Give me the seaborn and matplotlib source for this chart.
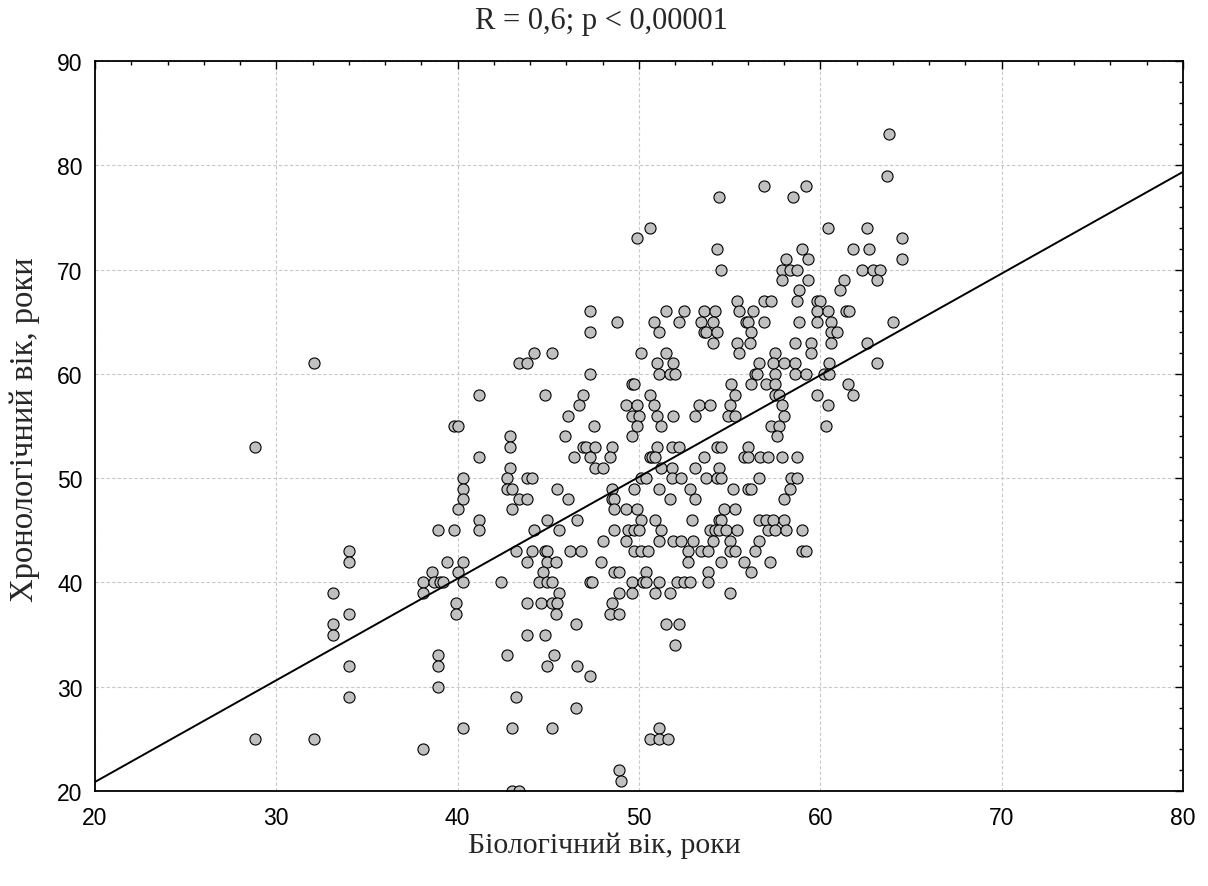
import matplotlib
matplotlib.use("Agg")
import matplotlib.pyplot as plt
import seaborn as sns
import numpy as np
from matplotlib.ticker import MultipleLocator

# ---- data: chronological age levels with corresponding biological ages ----
bio_age = [
    63.8,
    63.7,
    56.9, 59.2,
    54.4, 58.5,
    50.6, 60.4, 62.6,
    49.9, 64.5,
    54.3, 59.0, 61.8, 62.7,
    58.1, 59.3, 64.5,
    54.5, 57.9, 58.3, 58.7, 62.3, 62.9, 63.3,
    57.9, 59.3, 61.3, 63.1,
    58.8, 61.1,
    55.4, 56.9, 57.3, 58.7, 59.8, 60.0,
    47.3, 51.5, 52.5, 53.6, 54.2, 55.5, 56.3, 59.8, 60.4, 61.4, 61.6,
    48.8, 50.8, 52.2, 53.4, 54.1, 55.9, 56.0, 56.9, 58.8, 59.8, 60.6, 64.0,
    47.3, 51.1, 53.6, 53.7, 54.3, 56.2, 60.6, 60.9,
    54.1, 55.4, 56.1, 58.6, 59.5, 60.6, 62.6,
    44.2, 45.2, 50.1, 51.5, 55.5, 57.5, 59.5,
    32.1, 43.4, 43.8, 51.0, 51.9, 56.6, 57.4, 58.0, 58.6, 60.5, 63.1,
    47.3, 51.1, 51.7, 52.0, 56.4, 56.5, 57.5, 58.6, 59.2, 60.2, 60.5,
    49.6, 49.7, 55.1, 56.2, 57.0, 57.5, 61.5,
    41.2, 44.8, 46.9, 50.6, 55.3, 57.5, 57.7, 59.8, 61.8,
    46.7, 49.3, 49.9, 50.8, 53.3, 53.9, 55.0, 57.9, 60.4,
    46.1, 49.6, 50.0, 51.0, 51.9, 53.1, 54.9, 55.3, 58.0,
    39.8, 40.0, 47.5, 49.9, 51.2, 57.3, 57.7, 60.3,
    42.9, 45.9, 49.6, 57.6,
    28.8, 42.9, 46.9, 47.1, 47.6, 48.5, 51.0, 51.8, 52.2, 54.3, 54.5, 56.0,
    41.2, 46.4, 47.3, 48.4, 50.6, 50.7, 50.9, 53.6, 55.8, 56.0, 56.7, 57.1, 57.9, 58.7,
    42.9, 47.6, 48.0, 51.2, 51.8, 53.1, 54.4,
    40.3, 42.7, 43.8, 44.1, 50.1, 50.4, 51.8, 52.3, 53.7, 54.3, 54.5, 56.6, 58.4, 58.7,
    40.3, 42.7, 43.0, 45.5, 48.5, 49.7, 51.1, 52.8, 55.2, 56.0, 56.2, 58.3,
    40.3, 43.4, 43.8, 46.1, 48.5, 48.6, 51.7, 53.1, 58.0,
    40.0, 43.0, 48.6, 49.3, 49.9, 54.7, 55.3,
    41.2, 44.9, 46.6, 50.1, 50.9, 52.9, 54.4, 54.5, 56.6, 57.0, 57.4, 58.0,
    38.9, 39.8, 41.2, 44.2, 45.6, 48.6, 49.4, 49.7, 50.0, 51.2, 53.9, 54.2, 54.4, 54.8, 55.4, 57.1, 57.5, 58.1, 59.0,
    48.0, 49.3, 51.1, 51.9, 52.3, 53.0, 54.1, 55.0, 56.6,
    34.0, 43.2, 44.1, 44.8, 44.9, 46.2, 46.8, 49.7, 50.1, 50.5, 52.7, 53.4, 53.8, 55.0, 55.3, 56.4, 59.0, 59.2,
    34.0, 39.4, 40.3, 43.8, 44.9, 45.4, 47.9, 52.7, 54.5, 55.8, 57.2,
    38.6, 40.0, 44.7, 48.6, 48.9, 50.4, 53.8, 56.2,
    38.1, 38.7, 39.0, 39.2, 40.3, 42.4, 44.5, 44.9, 45.2, 47.3, 47.4, 49.6, 50.2, 50.4, 51.1, 52.1, 52.5, 52.8, 53.8,
    33.1, 38.1, 45.6, 48.9, 49.6, 50.9, 51.7, 55.0,
    39.9, 43.8, 44.6, 45.2, 45.5, 48.5,
    34.0, 39.9, 45.4, 48.4, 48.9,
    33.1, 46.5, 51.5, 52.2,
    33.1, 43.8, 44.8,
    52.0,
    38.9, 42.7, 45.3,
    34.0, 38.9, 44.9, 46.6,
    47.3,
    38.9,
    34.0, 43.2,
    46.5,
    40.3, 43.0, 45.2, 51.1,
    28.8, 32.1, 50.6, 51.1, 51.6,
    38.1,
    48.9,
    49.0,
    43.0, 43.4,
]

chrono_levels = [83, 79, 78, 77, 74, 73, 72, 71, 70, 69, 68, 67, 66, 65, 64, 63, 62, 61,
                 60, 59, 58, 57, 56, 55, 54, 53, 52, 51, 50, 49, 48, 47, 46, 45, 44, 43,
                 42, 41, 40, 39, 38, 37, 36, 35, 34, 33, 32, 31, 30, 29, 28, 26, 25, 24,
                 22, 21, 20]
level_counts = [1, 1, 2, 2, 3, 2, 4, 3, 7, 4, 2, 6, 11, 12, 8, 7, 7, 11,
                11, 7, 9, 9, 9, 8, 4, 12, 14, 7, 14, 12, 9, 7, 12, 19, 9, 18,
                11, 8, 19, 8, 6, 5, 4, 3, 1, 3, 4, 1, 1, 2, 1, 4, 5, 1,
                1, 1, 2]
chrono_age = [lvl for lvl, n in zip(chrono_levels, level_counts) for _ in range(n)]

# regression line endpoints
line_x = [20, 80]
line_y = [20.87, 79.37]

title = "R = 0,6; p < 0,00001"
x_label = "Біологічний вік, роки"
y_label = "Хронологічний вік, роки"

# ---- plot ----
sns.set_style("white")
plt.rcParams['font.family'] = ['Liberation Sans', 'DejaVu Sans']

W, H = 1208, 887
fig = plt.figure(figsize=(W / 100, H / 100), dpi=100)
ax = fig.add_axes([95 / W, 1 - 792 / H, (1183 - 95) / W, (792 - 62) / H])

sns.scatterplot(x=bio_age, y=chrono_age, ax=ax, color="#c0c0c0", edgecolor="black",
                s=64, linewidth=0.8, zorder=2, legend=False)
sns.lineplot(x=line_x, y=line_y, ax=ax, color="black", linewidth=1.4, zorder=3)

ax.set_xlim(20, 80)
ax.set_ylim(20, 90)
ax.xaxis.set_major_locator(MultipleLocator(10))
ax.yaxis.set_major_locator(MultipleLocator(10))
ax.xaxis.set_minor_locator(MultipleLocator(2))
ax.yaxis.set_minor_locator(MultipleLocator(2))
ax.grid(True, which="major", color="#c8c8c8", linestyle=(0, (3, 2)), linewidth=0.8, zorder=0)
ax.set_axisbelow(True)
ax.tick_params(which="both", direction="in", top=True, right=True, colors="black",
               labelsize=16.5, width=1.0)
ax.tick_params(which="major", length=6)
ax.tick_params(axis="x", which="major", pad=11)
ax.tick_params(axis="y", which="major", pad=9)
ax.tick_params(which="minor", length=3)
for sp in ax.spines.values():
    sp.set_color("black")
    sp.set_linewidth(1.3)
ax.set_xlabel("")
ax.set_ylabel("")

serif = ['Liberation Serif', 'DejaVu Serif']
fig.text(601 / W, 1 - 22 / H, title, ha="center", va="center", fontsize=22, family=serif)
fig.text(604 / W, 1 - 846 / H, x_label, ha="center", va="center", fontsize=21.5, family=serif)
fig.text(25 / W, 1 - 430 / H, y_label, ha="center", va="center", rotation=90, fontsize=23.5, family=serif)

fig.savefig("out.png", dpi=100)
